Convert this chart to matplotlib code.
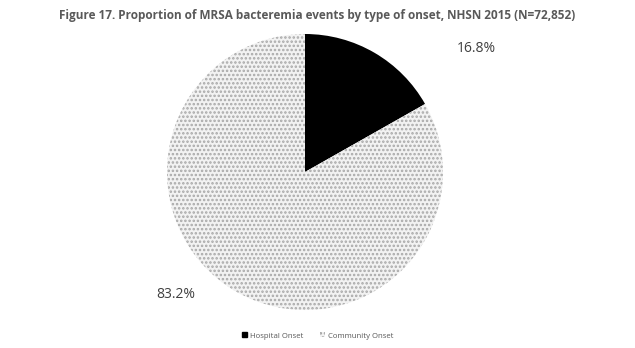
import matplotlib
matplotlib.use("Agg")
import matplotlib.pyplot as plt
from matplotlib.patches import Patch

labels = ["Hospital Onset", "Community Onset"]
values = [16.8, 83.2]
pct_labels = ["16.8%", "83.2%"]

plt.rcParams['font.family'] = ['Open Sans', 'DejaVu Sans']
plt.rcParams['hatch.linewidth'] = 1.2

fig = plt.figure(figsize=(6.35, 3.48), dpi=100)
ax = fig.add_axes([0.0, 0.0, 1.0, 1.0])
ax.set_xlim(0, 635)
ax.set_ylim(348, 0)
ax.axis("off")

# pie in its own axes so the circle stays round
cx, cy, r = 305, 172, 138
pax = fig.add_axes([(cx - r) / 635, 1 - (cy + r) / 348, 2 * r / 635, 2 * r / 348])
wedges, _ = pax.pie(values, startangle=90, counterclock=False,
                    colors=["black", "#f2f2f2"],
                    wedgeprops=dict(linewidth=0))
wedges[1].set_hatch("....")
wedges[1].set_edgecolor("#a8a8a8")
wedges[1].set_linewidth(0)
pax.set_xlim(-1, 1)
pax.set_ylim(-1, 1)
pax.set_aspect("equal")

ax.text(317, 16, "Figure 17. Proportion of MRSA bacteremia events by type of onset, NHSN 2015 (N=72,852)",
        ha="center", va="center", fontsize=8.5, fontweight="bold", color="#595959")
ax.text(476, 48, pct_labels[0], ha="center", va="center", fontsize=10, color="#404040")
ax.text(176, 295, pct_labels[1], ha="center", va="center", fontsize=10, color="#404040")

handles = [Patch(facecolor="black", edgecolor="black"),
           Patch(facecolor="#f2f2f2", edgecolor="#a0a0a0", hatch="....", linewidth=0)]
fig.legend(handles, labels, loc="center", bbox_to_anchor=(318 / 635, 1 - 336 / 348),
           ncol=2, frameon=False, fontsize=5.6, handlelength=0.6, handleheight=0.6,
           handletextpad=0.4, columnspacing=2.2, labelcolor="#595959")

fig.savefig("out.png", dpi=100)
